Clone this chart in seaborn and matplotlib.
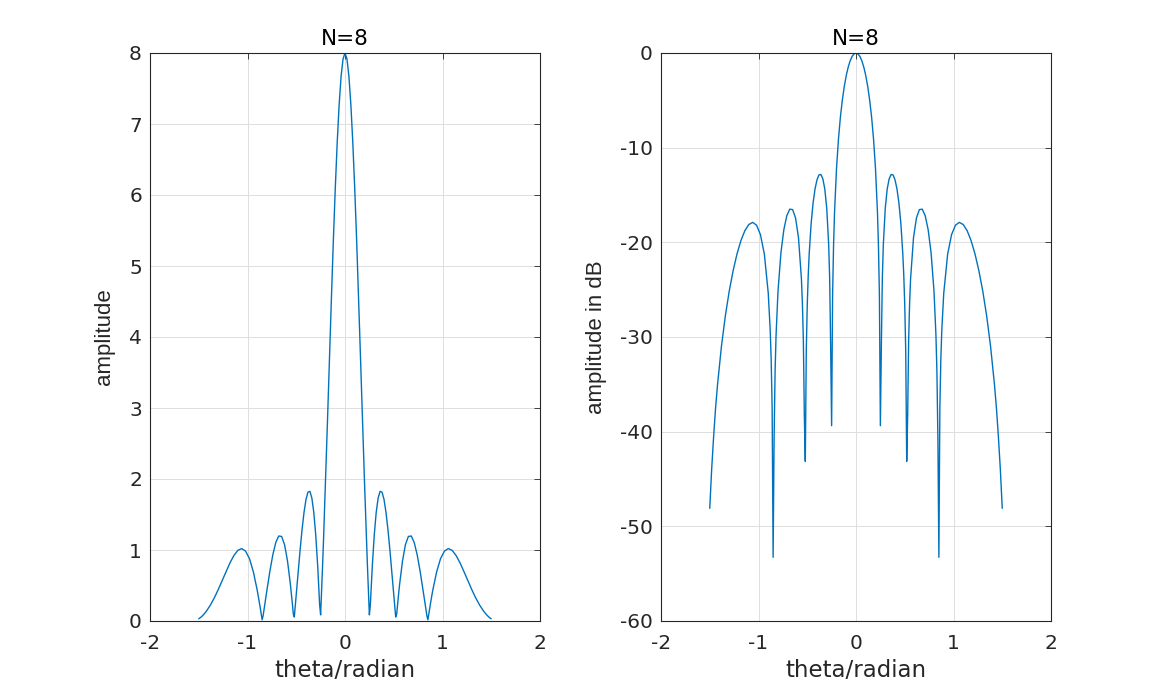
import matplotlib
matplotlib.use("Agg")
import matplotlib.pyplot as plt
import seaborn as sns
import pandas as pd

# ---- data ----
theta = [-1.50, -1.48, -1.46, -1.44, -1.42, -1.38, -1.34, -1.30, -1.26, -1.22, -1.18, -1.14,
         -1.10, -1.06, -1.02, -0.98, -0.94, -0.90, -0.88, -0.87, -0.86, -0.85, -0.84, -0.83,
         -0.82, -0.80, -0.77, -0.74, -0.71, -0.68, -0.65, -0.62, -0.59, -0.56, -0.55, -0.54,
         -0.53, -0.52, -0.51, -0.50, -0.49, -0.48, -0.46, -0.44, -0.42, -0.40, -0.38, -0.36,
         -0.34, -0.32, -0.30, -0.28, -0.27, -0.26, -0.25, -0.24, -0.23, -0.22, -0.20, -0.18,
         -0.16, -0.14, -0.12, -0.10, -0.08, -0.06, -0.04, -0.02,
         0.00,
         0.02, 0.04, 0.06, 0.08, 0.10, 0.12, 0.14, 0.16, 0.18, 0.20, 0.22, 0.23,
         0.24, 0.25, 0.26, 0.27, 0.28, 0.30, 0.32, 0.34, 0.36, 0.38, 0.40, 0.42,
         0.44, 0.46, 0.48, 0.49, 0.50, 0.51, 0.52, 0.53, 0.54, 0.55, 0.56, 0.59,
         0.62, 0.65, 0.68, 0.71, 0.74, 0.77, 0.80, 0.82, 0.83, 0.84, 0.85, 0.86,
         0.87, 0.88, 0.90, 0.94, 0.98, 1.02, 1.06, 1.10, 1.14, 1.18, 1.22, 1.26,
         1.30, 1.34, 1.38, 1.42, 1.44, 1.46, 1.48, 1.50]

amplitude = [0.031, 0.051, 0.076, 0.107, 0.142, 0.226, 0.327, 0.443, 0.568, 0.696, 0.818, 0.921,
             0.994, 1.020, 0.985, 0.879, 0.693, 0.431, 0.275, 0.192, 0.106, 0.017, 0.073, 0.165,
             0.257, 0.442, 0.705, 0.934, 1.105, 1.197, 1.191, 1.076, 0.848, 0.516, 0.384, 0.245,
             0.097, 0.056, 0.213, 0.374, 0.536, 0.696, 1.008, 1.293, 1.534, 1.713, 1.815, 1.826,
             1.733, 1.529, 1.209, 0.773, 0.513, 0.226, 0.086, 0.422, 0.780, 1.156, 1.958, 2.804,
             3.668, 4.522, 5.338, 6.085, 6.739, 7.275, 7.673, 7.917,
             8.000,
             7.917, 7.673, 7.275, 6.739, 6.085, 5.338, 4.522, 3.668, 2.804, 1.958, 1.156, 0.780,
             0.422, 0.086, 0.226, 0.513, 0.773, 1.209, 1.529, 1.733, 1.826, 1.815, 1.713, 1.534,
             1.293, 1.008, 0.696, 0.536, 0.374, 0.213, 0.056, 0.097, 0.245, 0.384, 0.516, 0.848,
             1.076, 1.191, 1.197, 1.105, 0.934, 0.705, 0.442, 0.257, 0.165, 0.073, 0.017, 0.106,
             0.192, 0.275, 0.431, 0.693, 0.879, 0.985, 1.020, 0.994, 0.921, 0.818, 0.696, 0.568,
             0.443, 0.327, 0.226, 0.142, 0.107, 0.076, 0.051, 0.031]

amplitude_db = [-48.10, -43.91, -40.46, -37.46, -35.01, -30.97, -27.76, -25.14, -22.98, -21.21, -19.81, -18.77,
                -18.12, -17.89, -18.19, -19.19, -21.24, -25.37, -29.27, -32.39, -37.56, -53.27, -40.78, -33.72,
                -29.85, -25.16, -21.10, -18.66, -17.20, -16.50, -16.54, -17.43, -19.49, -23.82, -26.37, -30.30,
                -38.29, -43.14, -31.48, -26.61, -23.49, -21.20, -17.99, -15.83, -14.35, -13.39, -12.88, -12.83,
                -13.29, -14.37, -16.41, -20.30, -23.86, -30.97, -39.37, -25.56, -20.23, -16.80, -12.22, -9.11,
                -6.77, -4.96, -3.52, -2.38, -1.49, -0.83, -0.36, -0.09,
                0.00,
                -0.09, -0.36, -0.83, -1.49, -2.38, -3.52, -4.96, -6.77, -9.11, -12.22, -16.80, -20.23,
                -25.56, -39.37, -30.97, -23.86, -20.30, -16.41, -14.37, -13.29, -12.83, -12.88, -13.39, -14.35,
                -15.83, -17.99, -21.20, -23.49, -26.61, -31.48, -43.14, -38.29, -30.30, -26.37, -23.82, -19.49,
                -17.43, -16.54, -16.50, -17.20, -18.66, -21.10, -25.16, -29.85, -33.72, -40.78, -53.27, -37.56,
                -32.39, -29.27, -25.37, -21.24, -19.19, -18.19, -17.89, -18.12, -18.77, -19.81, -21.21, -22.98,
                -25.14, -27.76, -30.97, -35.01, -37.46, -40.46, -43.91, -48.10]

x_ticks = [-2, -1, 0, 1, 2]
amp_ticks = [0, 1, 2, 3, 4, 5, 6, 7, 8]
db_ticks = [-60, -50, -40, -30, -20, -10, 0]
title_text = "N=8"
xlabel_text = "theta/radian"
ylabel_left = "amplitude"
ylabel_right = "amplitude in dB"

df = pd.DataFrame({"theta": theta, "amp": amplitude, "db": amplitude_db})

# ---- style ----
sns.set_style("white")
plt.rcParams["font.family"] = ["DejaVu Sans"]
plt.rcParams["axes.unicode_minus"] = False

LINE = "#0072BD"
AX = "#262626"
GRID = "#dfdfdf"

fig = plt.figure(figsize=(11.63, 6.99), dpi=100)
fig.patch.set_facecolor("white")

W, H = 1163.0, 699.0
ax_w = 390 / W
ax_h = 568 / H
ax_b = 1 - 621 / H
ax1 = fig.add_axes([150 / W, ax_b, ax_w, ax_h])
ax2 = fig.add_axes([661 / W, ax_b, ax_w, ax_h])

sns.lineplot(data=df, x="theta", y="amp", ax=ax1, sort=False, estimator=None,
             color=LINE, linewidth=1.0)
sns.lineplot(data=df, x="theta", y="db", ax=ax2, sort=False, estimator=None,
             color=LINE, linewidth=1.0)

for ax, yt, ylim, ylab, lab_x in [
    (ax1, amp_ticks, (0, 8), ylabel_left, -0.0897),
    (ax2, db_ticks, (-60, 0), ylabel_right, -0.1385),
]:
    ax.set_xlim(-2, 2)
    ax.set_ylim(*ylim)
    ax.set_xticks(x_ticks)
    ax.set_yticks(yt)
    ax.set_axisbelow(True)
    ax.grid(True, color=GRID, linewidth=0.7)
    for s in ax.spines.values():
        s.set_visible(True)
        s.set_color(AX)
        s.set_linewidth(0.8)
    ax.tick_params(axis="both", which="both", direction="in", length=4.5, width=0.6,
                   colors=AX, labelcolor=AX, labelsize=14.5, top=True, right=True)
    ax.tick_params(axis="x", pad=9.2)
    ax.tick_params(axis="y", pad=5.8)
    ax.set_title(title_text, fontsize=15.5, color="black", pad=6)
    ax.set_xlabel(xlabel_text, fontsize=16.5, color=AX)
    ax.xaxis.set_label_coords(0.5, (621 - 659) / 568.0)
    ax.set_ylabel(ylab, fontsize=16, color=AX, family=["Liberation Sans", "DejaVu Sans"])
    ax.yaxis.set_label_coords(lab_x, 0.5)

fig.savefig("out.png", dpi=100, facecolor="white")
